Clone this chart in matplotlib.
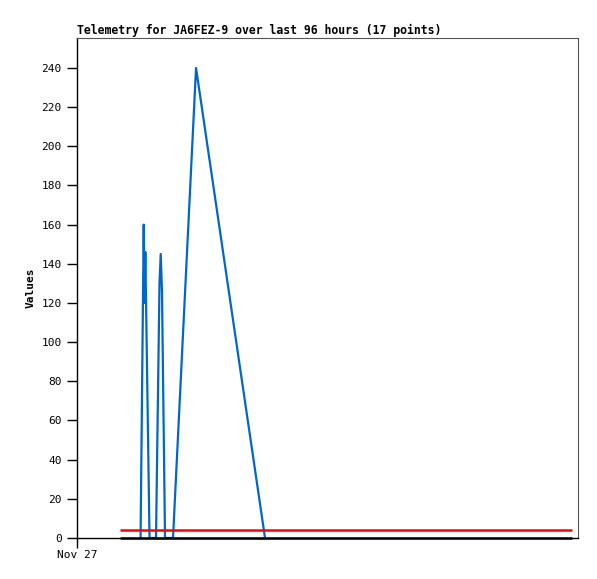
import matplotlib
matplotlib.use("Agg")
import matplotlib.pyplot as plt

# hours since Nov 27 00:00
blue_hours = [13.5, 14.17, 14.34, 14.51, 15.4, 16.78, 17.52, 17.78, 18.05, 18.69,
              20.39, 25.28, 39.93]
blue_values = [0, 160, 120, 146, 0, 0, 130, 145, 126, 0, 0, 240, 0]

span_hours = [9.1, 105.1]
red_values = [4, 4]
black_values = [0, 0]

x_ticks = [0]
x_tick_labels = ["Nov 27"]
y_ticks = list(range(0, 241, 20))

plt.rcParams["font.family"] = "DejaVu Sans Mono"

fig = plt.figure(figsize=(5.97, 5.79), dpi=100)
ax = fig.add_axes([77 / 597, 41 / 579, 501 / 597, 500 / 579])

# blue underneath, then red, black on top
ax.plot(blue_hours, blue_values, color="#0066cc", lw=1.6, zorder=3)
ax.plot(span_hours, red_values, color="#ff0000", lw=1.8, solid_capstyle="butt", zorder=4)
ax.plot(span_hours, black_values, color="black", lw=1.8, solid_capstyle="butt",
        zorder=5, clip_on=False)

ax.set_xlim(0, 106.4)
ax.set_ylim(0, 255.3)
ax.set_xticks(x_ticks)
ax.set_xticklabels(x_tick_labels)
ax.set_yticks(y_ticks)
ax.tick_params(direction="out", length=7, width=1, labelsize=8, pad=4)
ax.tick_params(axis="x", pad=2)

for s in ("top", "right"):
    ax.spines[s].set_color("#555555")
ax.spines["left"].set_linewidth(1)
ax.spines["bottom"].set_linewidth(1)

ax.set_ylabel("Values", fontsize=8, fontweight="bold", labelpad=4)
ax.set_title("Telemetry for JA6FEZ-9 over last 96 hours (17 points)",
             fontsize=8.3, fontweight="bold", loc="left", pad=3)

fig.savefig("out.png", dpi=100)
